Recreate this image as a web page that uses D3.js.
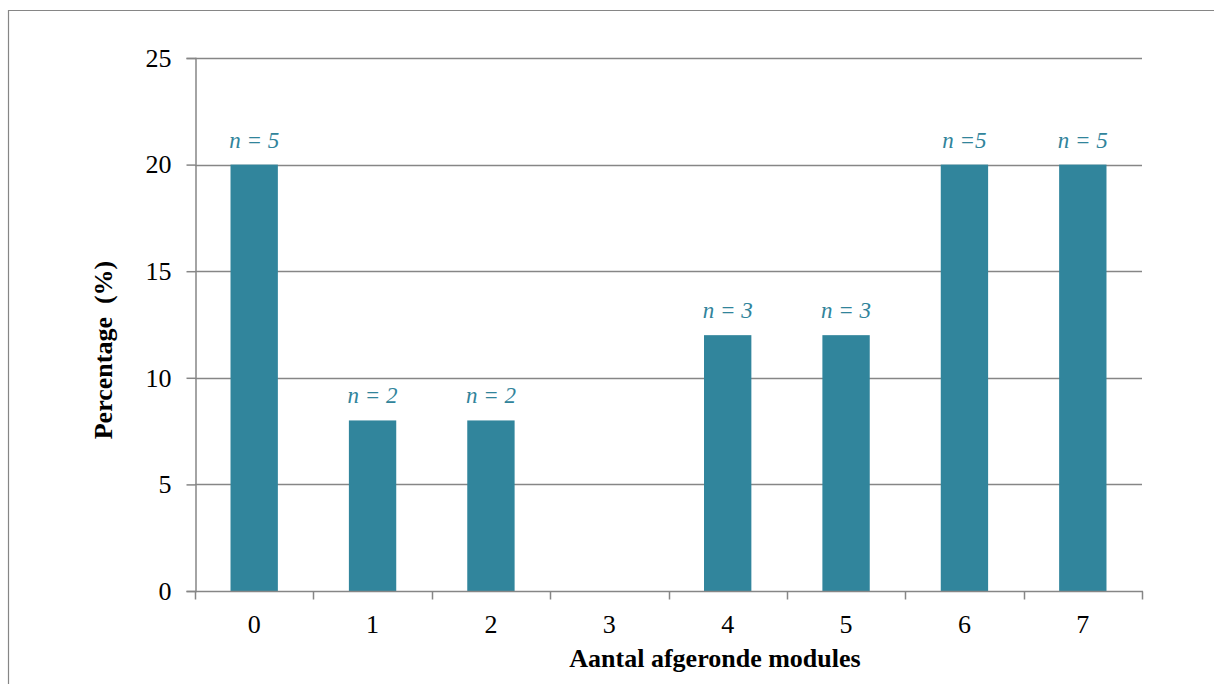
<!DOCTYPE html>
<html>
<head>
<meta charset="utf-8">
<script src="https://cdn.jsdelivr.net/npm/d3@7"></script>
<style>
  html, body { margin: 0; padding: 0; background: #fff; }
  svg { display: block; }
  svg text { font-family: "Liberation Serif", "DejaVu Serif", serif; }
</style>
</head>
<body>
<svg id="chart" width="1214" height="684"></svg>
<script>
// Number of completed modules and share of students (%)
const categories = ["0", "1", "2", "3", "4", "5", "6", "7"];
const percentages = [20, 8, 8, 0, 12, 12, 20, 20];
const countLabels = ["n = 5", "n = 2", "n = 2", "", "n = 3", "n = 3", "n =5", "n = 5"];
const yTicks = [0, 5, 10, 15, 20, 25];

(function () {
  const svg = d3.select("#chart");
  const plotLeft = 195, plotRight = 1142, plotTop = 58, plotBottom = 591;
  const axisColor = "#868686";
  const barColor = "#31859C";
  const serif = "Liberation Serif, DejaVu Serif, serif";
  const fs = 26;

  // Outer frame
  svg.append("path")
    .attr("d", "M8.5,684 V10.5 H1214")
    .attr("fill", "none").attr("stroke", axisColor).attr("stroke-width", 1.2);

  const x = d3.scaleBand().domain(categories).range([plotLeft, plotRight]).padding(0);
  const xBar = d3.scaleBand().domain(categories).range([plotLeft, plotRight])
    .paddingInner(0.6).paddingOuter(0.3);
  const y = d3.scaleLinear().domain([0, 25]).range([plotBottom, plotTop]);

  // Horizontal grid lines
  svg.append("g").selectAll("line").data(yTicks.filter(d => d > 0)).join("line")
    .attr("x1", plotLeft).attr("x2", plotRight)
    .attr("y1", d => Math.round(y(d)) + 0.5).attr("y2", d => Math.round(y(d)) + 0.5)
    .attr("stroke", axisColor).attr("stroke-width", 1.5);

  // Bars
  svg.append("g").selectAll("rect").data(percentages).join("rect")
    .attr("x", (d, i) => xBar(categories[i]))
    .attr("width", xBar.bandwidth())
    .attr("y", d => y(d))
    .attr("height", d => y(0) - y(d))
    .attr("fill", barColor);

  // Count labels above bars
  svg.append("g").selectAll("text").data(percentages).join("text")
    .attr("x", (d, i) => xBar(categories[i]) + xBar.bandwidth() / 2)
    .attr("y", d => y(d) - 17)
    .attr("text-anchor", "middle")
    .attr("font-family", serif)
    .attr("font-size", 23).attr("font-style", "italic")
    .attr("fill", "#31849B")
    .attr("xml:space", "preserve")
    .text((d, i) => countLabels[i]);

  // Y axis
  const yAxis = svg.append("g").attr("transform", `translate(${plotLeft + 0.5},0)`)
    .call(d3.axisLeft(y).tickValues(yTicks).tickSize(9).tickPadding(15).tickFormat(d3.format("d")));
  yAxis.attr("font-family", serif).attr("font-size", fs);
  yAxis.select(".domain").attr("stroke", axisColor).attr("stroke-width", 1.5);
  yAxis.selectAll(".tick line").attr("stroke", axisColor).attr("stroke-width", 1.5);
  yAxis.selectAll(".tick text").attr("fill", "#000");

  // X axis with ticks on category boundaries
  const xAxisG = svg.append("g").attr("transform", `translate(0,${plotBottom + 0.5})`);
  xAxisG.append("line").attr("x1", plotLeft).attr("x2", plotRight + 1)
    .attr("stroke", axisColor).attr("stroke-width", 1.5);
  const boundaries = categories.map(c => x(c)).concat([plotRight]);
  xAxisG.selectAll("line.tick").data(boundaries).join("line")
    .attr("class", "tick")
    .attr("x1", d => Math.round(d) + 0.5).attr("x2", d => Math.round(d) + 0.5)
    .attr("y1", 0).attr("y2", 8)
    .attr("stroke", axisColor).attr("stroke-width", 1.5);
  xAxisG.selectAll("text").data(categories).join("text")
    .attr("x", d => x(d) + x.bandwidth() / 2)
    .attr("y", 41)
    .attr("text-anchor", "middle")
    .attr("font-family", serif)
    .attr("font-size", fs).attr("fill", "#000")
    .text(d => d);

  // Axis titles
  svg.append("text")
    .attr("x", 715).attr("y", 667)
    .attr("text-anchor", "middle")
    .attr("font-family", serif)
    .attr("font-size", fs).attr("font-weight", "bold")
    .text("Aantal afgeronde modules");

  svg.append("text")
    .attr("transform", "translate(112,350) rotate(-90)")
    .attr("text-anchor", "middle")
    .attr("font-family", serif)
    .attr("font-size", fs).attr("font-weight", "bold")
    .attr("xml:space", "preserve")
    .text("Percentage  (%)");
})();
</script>
</body>
</html>
